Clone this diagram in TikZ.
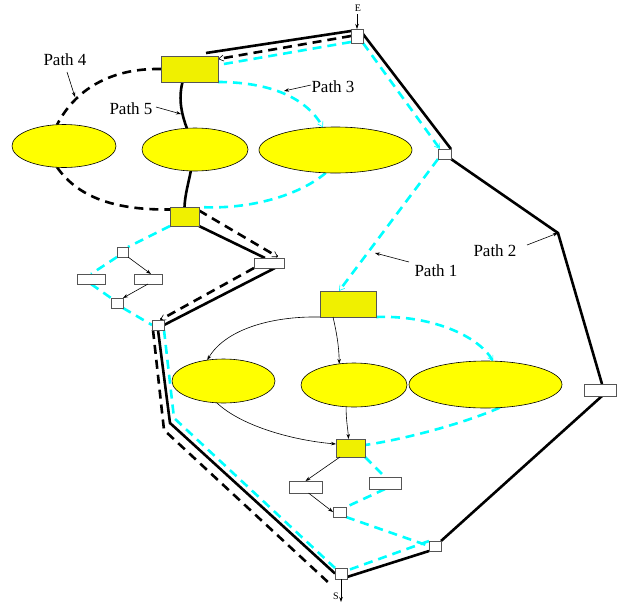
\documentclass[tikz,border=0pt]{standalone}
\usepackage{fontspec}
\setmainfont{Liberation Serif}
\usetikzlibrary{arrows.meta,calc,shapes.geometric,backgrounds}
\definecolor{boxyellow}{RGB}{240,240,0}
\definecolor{ovalyellow}{RGB}{255,255,0}
\definecolor{routeaqua}{RGB}{0,255,255}
\definecolor{framegray}{RGB}{85,85,85}
\begin{document}
\begin{tikzpicture}[x=1pt,y=-1pt,
  ybox/.style={rectangle,draw=framegray,fill=boxyellow,line width=0.8pt,inner sep=0pt,outer sep=0pt},
  oval/.style={ellipse,draw=black,fill=ovalyellow,line width=0.6pt,inner sep=0pt,outer sep=0pt},
  wbox/.style={rectangle,draw=framegray,fill=white,line width=0.8pt,inner sep=0pt,outer sep=0pt},
  route/.style={line width=2.6pt},
  routedash/.style={route,dash pattern=on 9pt off 6pt},
  routecyan/.style={route,routeaqua,dash pattern=on 9pt off 6pt},
  barb/.style={-{Straight Barb[length=5pt,width=6pt,line width=0.6pt]}},
  link/.style={line width=0.6pt,-{Stealth[length=5pt,width=3.5pt]}},
  lbl/.style={font=\fontsize{17}{20}\selectfont,inner sep=0pt},
  endlbl/.style={font=\fontsize{10}{12}\selectfont,inner sep=0pt}]
\useasboundingbox (0,0) rectangle (621,603);

% ---- nodes ----
\node[wbox,minimum width=12pt,minimum height=14pt] (E) at (357,36) {};
\node[ybox,minimum width=57pt,minimum height=26pt] (top) at (189.5,69) {};
\node[oval,minimum width=104pt,minimum height=43pt] (e1) at (64,146) {};
\node[oval,minimum width=106pt,minimum height=43pt] (e2) at (195,149.5) {};
\node[oval,minimum width=153pt,minimum height=46pt] (e3) at (335.5,150) {};
\node[wbox,minimum width=13pt,minimum height=10pt] (n1) at (444.5,154) {};
\coordinate (bend) at (558,233);
\node[wbox,minimum width=32pt,minimum height=12pt] (rbox) at (600,390) {};
\node[ybox,minimum width=29pt,minimum height=19pt] (hub) at (184.5,216.5) {};
\node[wbox,minimum width=11pt,minimum height=10pt] (c1) at (122.5,252) {};
\node[wbox,minimum width=28pt,minimum height=10pt] (lr) at (91,279) {};
\node[wbox,minimum width=28pt,minimum height=10pt] (rr2) at (148,279) {};
\node[wbox,minimum width=12pt,minimum height=10pt] (c2) at (117,303) {};
\node[wbox,minimum width=12pt,minimum height=10pt] (J) at (158,325) {};
\node[wbox,minimum width=30pt,minimum height=10pt] (rr) at (269,263) {};
\node[ybox,minimum width=56pt,minimum height=26pt] (mid) at (348,304) {};
\node[oval,minimum width=103pt,minimum height=44pt] (e4) at (223.5,381) {};
\node[oval,minimum width=106pt,minimum height=44pt] (e5) at (354,385) {};
\node[oval,minimum width=153pt,minimum height=47pt] (e6) at (485.5,384.5) {};
\node[ybox,minimum width=29pt,minimum height=18pt] (bbox) at (350.5,448) {};
\node[wbox,minimum width=33pt,minimum height=12pt] (lrect) at (305.5,487) {};
\node[wbox,minimum width=32pt,minimum height=12pt] (rrect) at (385,483) {};
\node[wbox,minimum width=13pt,minimum height=10pt] (n4) at (339.5,512) {};
\node[wbox,minimum width=12pt,minimum height=10pt] (n5) at (435,546) {};
\node[wbox,minimum width=12pt,minimum height=11pt] (S) at (341,573.5) {};

\coordinate (b1) at (170,423);
\coordinate (b2) at (164,430);
\coordinate (b3) at (174,418);

% ---- labels ----
\node[endlbl] (El) at (358,8) {E};
\node[endlbl] (Sl) at (336,596) {S};
\coordinate (Etop) at (357,14);
\coordinate (Sout) at (341,602);
\node[lbl] (l4) at (65,60) {Path 4};
\node[lbl] (l5) at (131,109) {Path 5};
\node[lbl] (l3) at (333,87) {Path 3};
\node[lbl] (l1) at (436,271) {Path 1};
\node[lbl] (l2) at (495,251) {Path 2};
\coordinate (s4) at (67,72);   \coordinate (t4) at (75,97);
\coordinate (s5) at (156,107); \coordinate (t5) at (181,114);
\coordinate (s3) at (311,85);  \coordinate (t3) at (284,91);
\coordinate (s1) at (409,262); \coordinate (t1) at (375,253);
\coordinate (s2) at (527,245);

\begin{scope}[on background layer]
% Path 2: solid route on the right
\draw[route,line join=miter] ($(E.east)+(0,-2)$) -- (n1.north east);
\draw[route,line join=miter] (n1.south east) -- (bend) -- ($(rbox.north)+(2,0)$);
\draw[route] ($(rbox.south)+(2,0)$) -- (n5.north east);
\draw[route] (n5.south west) -- ($(S.south east)+(0,-2)$);

% Path 5: solid route through the middle oval
\draw[route] ($(E.west)+(0,-5)$) -- ($(top.north east)+(-12,-3)$);
\draw[route] ($(top.south)+(-7,0)$) .. controls (178,100) and (182,115) .. (e2.111);
\draw[route] (e2.259) .. controls (188,185) and (185,195) .. (hub.north);
\draw[route] (hub.south east) -- ($(rr.north)+(-4,0)$);
\draw[route] ($(rr.south east)+(-9,0)$) -- (J.east);
\draw[route,line join=miter] (J.south) -- (b1) -- (S.west);

% Path 4: dashed route through the left oval
\draw[routedash,barb] (E.west) -- ($(top.north east)+(0,3)$);
\draw[routedash] (top.west) .. controls (110,68) and (75,90) .. (e1.108);
\draw[routedash] (e1.252) .. controls (80,200) and (120,210) .. ($(hub.west)+(0,-7)$);
\draw[routedash,barb] ($(hub.east)+(0,-6)$) -- ($(rr.north east)+(-6,-1)$);
\draw[routedash,barb] (rr.south west) -- ($(J.north)+(2,0)$);
\draw[routedash,line join=miter] ($(J.south west)+(1,0)$) -- (b2) -- ($(S.south west)+(-5,5)$);

% Path 3: dashed cyan route through the wide upper oval
\draw[routecyan] ($(E.south west)+(0,-1)$) -- ($(top.east)+(0,-4)$);
\draw[routecyan,barb] (top.south east) .. controls (265,82) and (305,95) .. (e3.119);
\draw[routecyan] (e3.247) .. controls (300,195) and (250,210) .. (hub.north east);
\draw[routecyan] (hub.south west) -- (c1.north east);
\draw[routecyan] (c1.south west) -- (lr.north);
\draw[routecyan] (lr.south) -- (c2.north west);
\draw[routecyan] (c2.south east) -- (J.west);
\draw[routecyan,line join=miter] (J.south east) -- (b3) -- (S.north west);

% Path 1: dashed cyan route through the lower right oval
\draw[routecyan,barb] (E.south east) -- ($(n1.north west)+(2,0)$);
\draw[routecyan,barb] (n1.south west) -- ($(mid.north)+(-9,0)$);
\draw[routecyan,barb] (mid.south east) .. controls (430,315) and (478,335) .. (e6.72);
\draw[routecyan] (e6.302) .. controls (460,425) and (400,440) .. ($(bbox.east)+(0,-3)$);
\draw[routecyan] (bbox.south east) -- (rrect.north);
\draw[routecyan] (rrect.south) -- (n4.north east);
\draw[routecyan] (n4.south east) -- (n5.west);
\draw[routecyan] (n5.north west) -- ($(S.east)+(0,-3)$);
\end{scope}

% ---- thin graph edges ----
\draw[link] (c1.south east) -- ($(rr2.north)+(3,0)$);
\draw[link] (rr2.south) -- (c2.north east);
\draw[link] (mid.south west) .. controls (270,316) and (225,330) .. (e4.128);
\draw[link] ($(mid.south)+(-15,0)$) .. controls (336,330) and (339,345) .. (e5.125);
\draw[link] (e4.253) .. controls (240,425) and (290,440) .. ($(bbox.west)+(0,-4)$);
\draw[link] (e5.250) .. controls (346,420) and (348,430) .. ($(bbox.north)+(-2,0)$);
\draw[link] ($(bbox.south west)+(4,0)$) -- (lrect.north);
\draw[link] ($(lrect.south)+(3,0)$) -- (n4.west);

% ---- terminals and label pointers ----
\draw[link] (Etop) -- (E.north);
\draw[link] (S.south) -- (Sout);
\draw[link] (s4) -- (t4);
\draw[link] (s5) -- (t5);
\draw[link] (s3) -- (t3);
\draw[link] (s1) -- (t1);
\draw[link] (s2) -- (bend);
\end{tikzpicture}
\end{document}
